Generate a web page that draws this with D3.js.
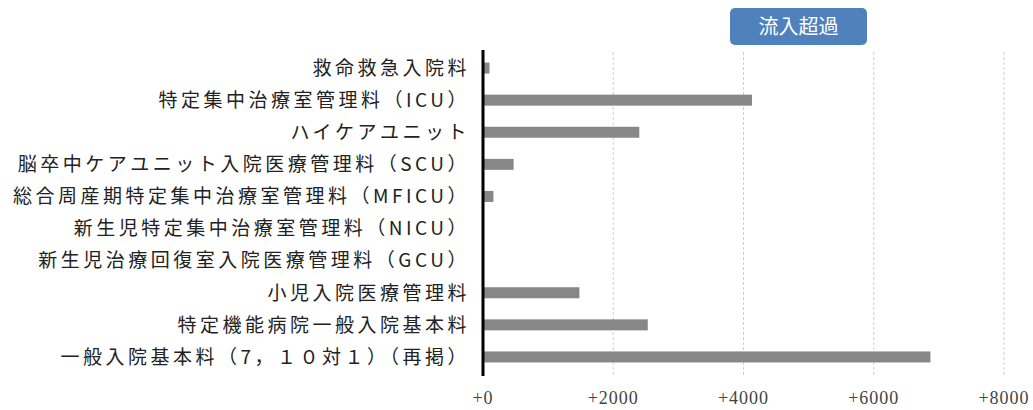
<!DOCTYPE html>
<html>
<head>
<meta charset="utf-8">
<script src="https://cdn.jsdelivr.net/npm/d3@7"></script>
<style>
	body { margin: 0; background: #fff; }
	svg { display: block; }
</style>
</head>
<body>
<div id="chart"></div>
<script>
//categories top to bottom
let categories = [
	'救命救急入院料',
	'特定集中治療室管理料（ICU）',
	'ハイケアユニット',
	'脳卒中ケアユニット入院医療管理料（SCU）',
	'総合周産期特定集中治療室管理料（MFICU）',
	'新生児特定集中治療室管理料（NICU）',
	'新生児治療回復室入院医療管理料（GCU）',
	'小児入院医療管理料',
	'特定機能病院一般入院基本料',
	'一般入院基本料（7，１０対１）（再掲）'
];
//inflow surplus per category
let values = [100, 4130, 2400, 470, 160, 0, 0, 1480, 2530, 6870];
let tickValues = [0, 2000, 4000, 6000, 8000];
let tickLabels = ['+0', '+2000', '+4000', '+6000', '+8000'];
let badgeText = '流入超過';

renderChart();

function renderChart() {
	let width = 1033, height = 410;
	let svg = d3.select('#chart').append('svg')
		.attr('width', width)
		.attr('height', height);

	let x = d3.scaleLinear().domain([0, 8000]).range([483, 1004]);
	let y = d3.scalePoint().domain(categories).range([52, 373]).padding(0.5);
	let barH = 11;

	//dashed gridlines
	svg.append('g').selectAll('line')
		.data(tickValues.slice(1))
		.join('line')
		.attr('x1', d => x(d)).attr('x2', d => x(d))
		.attr('y1', 52).attr('y2', 375)
		.attr('stroke', '#cfcfcf')
		.attr('stroke-width', 1)
		.attr('stroke-dasharray', '3,2');

	//bars
	svg.append('g').selectAll('rect')
		.data(values)
		.join('rect')
		.attr('x', x(0))
		.attr('y', (d, i) => y(categories[i]) - barH / 2)
		.attr('width', d => x(d) - x(0))
		.attr('height', barH)
		.attr('fill', '#878787');

	//zero axis line
	svg.append('line')
		.attr('x1', x(0)).attr('x2', x(0))
		.attr('y1', 50).attr('y2', 376)
		.attr('stroke', '#000')
		.attr('stroke-width', 3);

	//category labels
	svg.append('g').selectAll('text')
		.data(categories)
		.join('text')
		.attr('x', 470)
		.attr('y', d => y(d))
		.attr('dy', '0.36em')
		.attr('text-anchor', 'end')
		.attr('font-family', '"Noto Sans CJK JP"')
		.attr('font-size', 19)
		.attr('letter-spacing', 3.5)
		.attr('fill', '#222')
		.text(d => d);

	//tick labels
	svg.append('g').selectAll('text')
		.data(tickValues)
		.join('text')
		.attr('x', d => x(d))
		.attr('y', 404)
		.attr('text-anchor', 'middle')
		.attr('font-family', '"Liberation Serif"')
		.attr('font-size', 18)
		.attr('letter-spacing', 1)
		.attr('fill', '#444')
		.text((d, i) => tickLabels[i]);

	//badge
	let badge = svg.append('g');
	badge.append('rect')
		.attr('x', 730).attr('y', 8)
		.attr('width', 137).attr('height', 37)
		.attr('rx', 5)
		.attr('fill', '#4f81bd');
	badge.append('text')
		.attr('x', 798.5).attr('y', 27)
		.attr('dy', '0.36em')
		.attr('text-anchor', 'middle')
		.attr('font-family', '"Noto Sans CJK JP"')
		.attr('font-size', 20)
		.attr('fill', '#fff')
		.text(badgeText);
}
</script>
</body>
</html>
